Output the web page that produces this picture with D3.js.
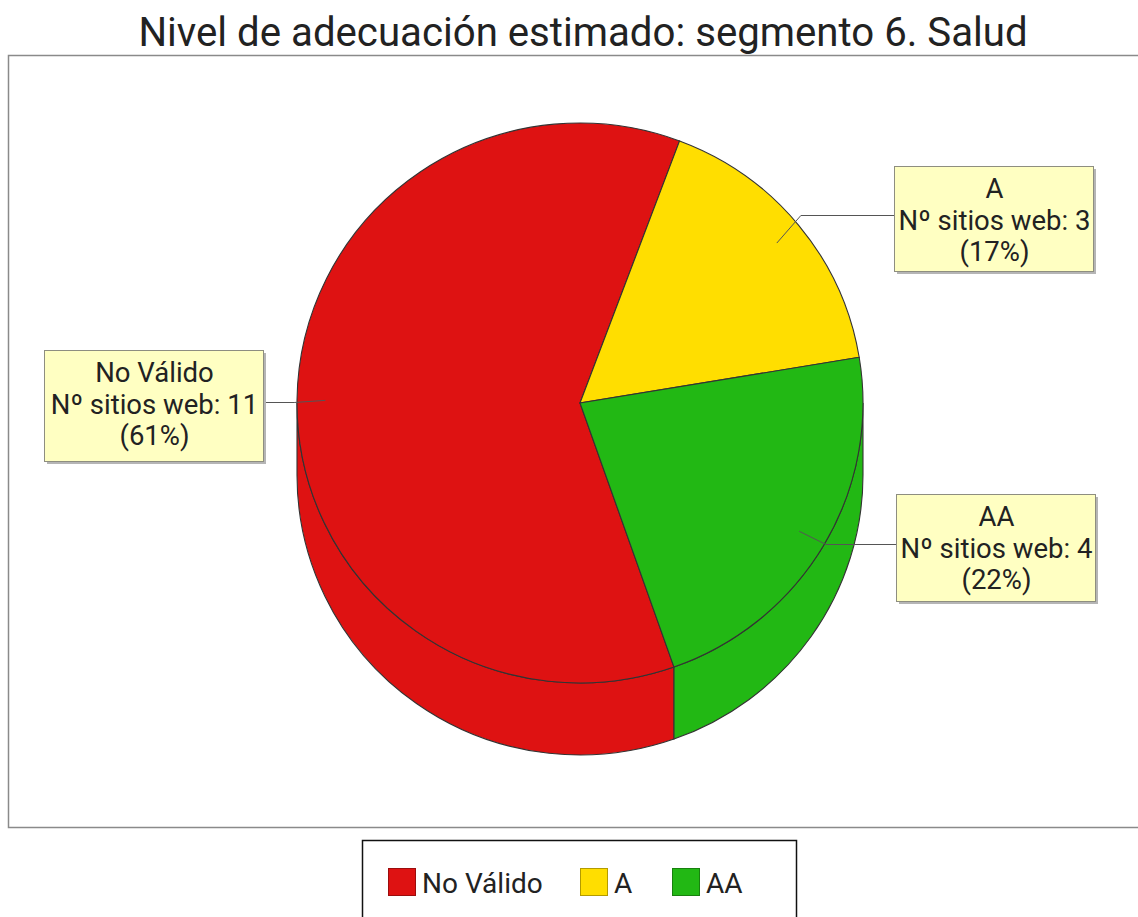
<!DOCTYPE html>
<html>
<head>
<meta charset="utf-8">
<script src="https://cdn.jsdelivr.net/npm/d3@7"></script>
<style>
  html, body { margin: 0; padding: 0; background: #fff; }
  svg text { font-family: Roboto, "Noto Sans", sans-serif; fill: #222; }
</style>
</head>
<body>
<svg id="chart" width="1138" height="917"></svg>
<script>
// Data
const categories = ["No Válido", "A", "AA"];
const counts = [11, 3, 4];
const percentLabels = ["61%", "17%", "22%"];
const colors = ["#DE1212", "#FFDE00", "#22B814"];
const title = "Nivel de adecuación estimado: segmento 6. Salud";
const countPrefix = "Nº sitios web: ";

const W = 1138, H = 917;
const svg = d3.select("#chart");

// Title
svg.append("text")
  .attr("x", 583).attr("y", 46)
  .attr("text-anchor", "middle")
  .attr("font-size", 40.2)
  .text(title);

// Plot frame
svg.append("rect")
  .attr("x", 8.5).attr("y", 55.5)
  .attr("width", 1140).attr("height", 772)
  .attr("fill", "#fff")
  .attr("stroke", "#8a8a8a").attr("stroke-width", 1.5);

// 3D pie geometry
const cx = 580, cy = 403, rx = 283, ry = 280, depth = 72;
const k = ry / rx;
const startDeg = 160.6;
const start = startDeg * Math.PI / 180;

const pie = d3.pie().sort(null).value(d => d)
  .startAngle(start).endAngle(start + 2 * Math.PI);
const arcs = pie(counts);

const arcGen = d3.arc().innerRadius(0).outerRadius(rx);

const g = svg.append("g")
  .attr("transform", `translate(${cx},${cy}) scale(1,${k})`);

// Visible (front) part of the outer wall for each slice
function frontRanges(a0, a1) {
  const out = [];
  for (let n = -1; n <= 1; n++) {
    const lo = Math.PI / 2 + 2 * Math.PI * n, hi = 3 * Math.PI / 2 + 2 * Math.PI * n;
    const s = Math.max(a0, lo), e = Math.min(a1, hi);
    if (e > s) out.push([s, e]);
  }
  return out;
}
const dz = depth / k;
arcs.forEach((a, i) => {
  frontRanges(a.startAngle, a.endAngle).forEach(([s, e]) => {
    const p = d3.path();
    p.moveTo(rx * Math.sin(s), -rx * Math.cos(s));
    p.arc(0, 0, rx, s - Math.PI / 2, e - Math.PI / 2, false);
    p.lineTo(rx * Math.sin(e), -rx * Math.cos(e) + dz);
    p.arc(0, dz, rx, e - Math.PI / 2, s - Math.PI / 2, true);
    p.closePath();
    g.append("path")
      .attr("d", p.toString())
      .attr("fill", colors[i])
      .attr("stroke", "#333")
      .attr("stroke-width", 1.1)
      .attr("vector-effect", "non-scaling-stroke");
  });
});

// Top faces
g.selectAll("path.top").data(arcs).join("path")
  .attr("class", "top")
  .attr("d", arcGen)
  .attr("fill", (d, i) => colors[i])
  .attr("stroke", "#333")
  .attr("stroke-width", 1.1)
  .attr("vector-effect", "non-scaling-stroke");

// Labels with link lines
const labelBoxes = [
  { x: 44, y: 350, w: 219, h: 111, side: "left" },
  { x: 894, y: 166, w: 199, h: 105, side: "right" },
  { x: 896, y: 494, w: 199, h: 107, side: "right" }
];
function onEllipse(angle, f) {
  return [cx + f * rx * Math.sin(angle), cy - f * ry * Math.cos(angle)];
}
arcs.forEach((a, i) => {
  const mid = (a.startAngle + a.endAngle) / 2;
  const b = labelBoxes[i];
  const anchor = onEllipse(mid, 0.9);
  const elbow = onEllipse(mid, 1.01);
  const boxY = b.y + b.h / 2 - 3;
  const boxX = b.side === "left" ? b.x + b.w : b.x;
  svg.append("polyline")
    .attr("points", [anchor, [elbow[0], boxY], [boxX, boxY]].map(p => p.join(",")).join(" "))
    .attr("fill", "none")
    .attr("stroke", "#555")
    .attr("stroke-width", 1);

  // shadow
  svg.append("rect")
    .attr("x", b.x + 3).attr("y", b.y + 3)
    .attr("width", b.w).attr("height", b.h)
    .attr("fill", "#b5b5b5");
  svg.append("rect")
    .attr("x", b.x + 0.5).attr("y", b.y + 0.5)
    .attr("width", b.w).attr("height", b.h)
    .attr("fill", "#FFFFC2")
    .attr("stroke", "#8e8e80").attr("stroke-width", 1);
  const lines = [categories[i], countPrefix + counts[i], "(" + percentLabels[i] + ")"];
  const tx = b.x + b.w / 2 + 1;
  const t = svg.append("text")
    .attr("text-anchor", "middle")
    .attr("font-size", 27.5);
  lines.forEach((s, j) => {
    t.append("tspan").attr("x", tx).attr("y", b.y + 32 + j * 31.5).text(s);
  });
});

// Legend
const legend = svg.append("g");
legend.append("rect")
  .attr("x", 362.5).attr("y", 840.5)
  .attr("width", 434).attr("height", 90)
  .attr("fill", "#fff")
  .attr("stroke", "#111").attr("stroke-width", 1.5);
const legendX = [388, 580, 672];
categories.forEach((c, i) => {
  legend.append("rect")
    .attr("x", legendX[i] + 0.5).attr("y", 868.5)
    .attr("width", 27).attr("height", 27)
    .attr("fill", colors[i])
    .attr("stroke", d3.color(colors[i]).darker(1))
    .attr("stroke-width", 1);
  legend.append("text")
    .attr("x", legendX[i] + 34).attr("y", 893)
    .attr("font-size", 28)
    .text(c);
});
</script>
</body>
</html>
